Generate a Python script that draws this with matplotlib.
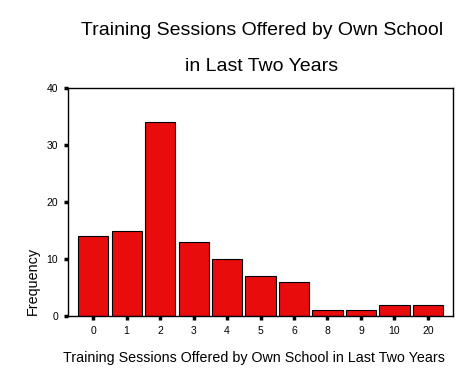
import matplotlib
matplotlib.use("Agg")
import matplotlib.pyplot as plt

plt.rcParams['font.family'] = ['Liberation Sans', 'DejaVu Sans']

categories = ["0", "1", "2", "3", "4", "5", "6", "8", "9", "10", "20"]
frequency = [14, 15, 34, 13, 10, 7, 6, 1, 1, 2, 2]
y_ticks = [0, 10, 20, 30, 40]

fig = plt.figure(figsize=(4.73, 3.79), dpi=100)
ax = fig.add_axes([0.1438, 0.1662, 0.8140, 0.6016])

pos = list(range(len(categories)))
ax.bar(pos, frequency, width=0.9, color="#E80C0C", edgecolor="black", linewidth=0.8)

ax.set_xlim(-0.75, len(categories) - 0.25)
ax.set_ylim(0, 40)
ax.set_xticks(pos)
ax.set_xticklabels(categories)
ax.set_yticks(y_ticks)
ax.tick_params(direction='out', length=3, width=2.5, labelsize=7.5, pad=4)
for s in ax.spines.values():
    s.set_linewidth(1)

fig.text(0.554, 0.92, "Training Sessions Offered by Own School", ha='center', va='center', fontsize=14)
fig.text(0.554, 0.825, "in Last Two Years", ha='center', va='center', fontsize=14)
fig.text(0.537, 0.055, "Training Sessions Offered by Own School in Last Two Years",
         ha='center', va='center', fontsize=10.3)
fig.text(0.07, 0.168, "Frequency", rotation=90, ha='center', va='bottom', fontsize=10.4)

fig.savefig("out.png", dpi=100)
